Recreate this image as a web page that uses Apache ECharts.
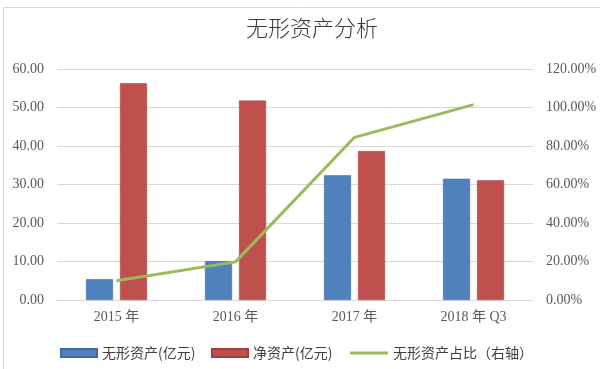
<!DOCTYPE html>
<html><head><meta charset="utf-8">
<script src="https://cdn.jsdelivr.net/npm/echarts@6/dist/echarts.min.js"></script>
<style>html,body{margin:0;padding:0;background:#fff}#c{width:600px;height:369px}</style>
</head><body><div id="c"></div>
<script>
const categories = ['2015 年', '2016 年', '2017 年', '2018 年 Q3'];
const intangible = [5.4, 10.1, 32.4, 31.5];
const netAssets = [56.3, 51.8, 38.7, 31.1];
const ratio = [10.0, 19.8, 84.5, 101.5];
const leftTicks = {min: 0, max: 60, interval: 10};
const rightTicks = {min: 0, max: 120, interval: 20};

const chart = echarts.init(document.getElementById('c'));
const axisFont = {color: '#595959', fontSize: 14, fontFamily: 'Liberation Serif, Noto Sans CJK SC'};
const legendText = {color: '#404040', fontSize: 14, fontFamily: 'Noto Sans CJK SC'};
chart.setOption({
  animation: false,
  backgroundColor: '#fff',
  graphic: [{type: 'rect', shape: {x: 3.5, y: 7.5, width: 620, height: 400}, style: {fill: 'none', stroke: '#d9d9d9', lineWidth: 1}}],
  title: {text: '无形资产分析', left: 307, top: 12, textAlign: 'center',
    textStyle: {fontSize: 22, fontWeight: 300, color: '#3a3a3a', fontFamily: 'Noto Sans CJK SC'}},
  grid: {left: 57, right: 67, top: 69, bottom: 69},
  legend: [
    {data: [{name: '无形资产(亿元)', icon: 'rect'}], left: 55, top: 341, itemWidth: 36, itemHeight: 8, textStyle: legendText},
    {data: [{name: '净资产(亿元)', icon: 'rect'}], left: 206, top: 341, itemWidth: 36, itemHeight: 8, textStyle: legendText},
    {data: [{name: '无形资产占比（右轴）', icon: 'rect'}], left: 345, top: 341, itemWidth: 38, itemHeight: 3, textStyle: legendText}
  ],
  xAxis: {type: 'category', data: categories,
    axisLine: {lineStyle: {color: '#d9d9d9'}}, axisTick: {show: false},
    axisLabel: Object.assign({margin: 10}, axisFont)},
  yAxis: [
    Object.assign({type: 'value', position: 'left',
      axisLine: {show: false}, axisTick: {show: false},
      splitLine: {lineStyle: {color: '#d9d9d9'}},
      axisLabel: Object.assign({margin: 13, formatter: v => v.toFixed(2)}, axisFont)}, leftTicks),
    Object.assign({type: 'value', position: 'right',
      axisLine: {show: false}, axisTick: {show: false}, splitLine: {show: false},
      axisLabel: Object.assign({margin: 13, formatter: v => v.toFixed(2) + '%'}, axisFont)}, rightTicks)
  ],
  series: [
    {name: '无形资产(亿元)', type: 'bar', data: intangible, barWidth: 27, barGap: '26%',
      itemStyle: {color: '#4F81BD', borderColor: '#3f6b9f', borderWidth: 0.5}},
    {name: '净资产(亿元)', type: 'bar', data: netAssets, barWidth: 27,
      itemStyle: {color: '#C0504D', borderColor: '#a03f3d', borderWidth: 0.5}},
    {name: '无形资产占比（右轴）', type: 'line', yAxisIndex: 1, data: ratio,
      symbol: 'none', lineStyle: {color: '#9BBB59', width: 3}, itemStyle: {color: '#9BBB59'}}
  ]
});
</script></body></html>
